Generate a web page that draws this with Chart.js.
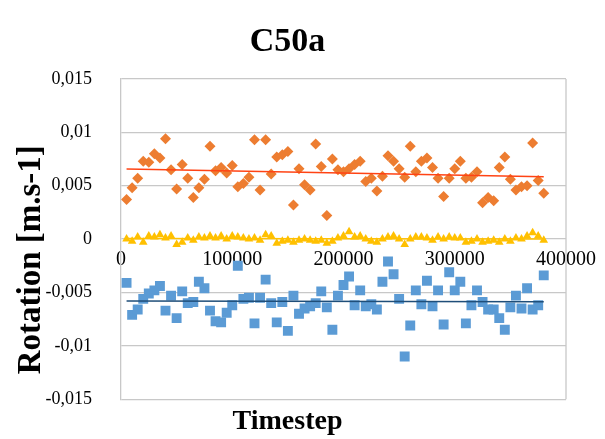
<!DOCTYPE html>
<html lang="en">
<head>
    <meta charset="UTF-8">
    <title>C50a</title>
    <script src="https://cdn.jsdelivr.net/npm/chart.js"></script>
    <style>
        body { margin: 0; background: #fff; }
    </style>
</head>
<body>
    <canvas id="myChart" width="605" height="439"></canvas>

    <script>
        // timestep (x) for every sample
        const timesteps = [
            5000, 10000, 15000, 20000, 25000, 30000, 35000, 40000, 45000, 50000,
            55000, 60000, 65000, 70000, 75000, 80000, 85000, 90000, 95000, 100000,
            105000, 110000, 115000, 120000, 125000, 130000, 135000, 140000, 145000, 150000,
            155000, 160000, 165000, 170000, 175000, 180000, 185000, 190000, 195000, 200000,
            205000, 210000, 215000, 220000, 225000, 230000, 235000, 240000, 245000, 250000,
            255000, 260000, 265000, 270000, 275000, 280000, 285000, 290000, 295000, 300000,
            305000, 310000, 315000, 320000, 325000, 330000, 335000, 340000, 345000, 350000,
            355000, 360000, 365000, 370000, 375000, 380000
        ];

        // orange diamonds
        const rotOrange = [
            0.0037, 0.0048, 0.0057, 0.0073, 0.0072, 0.0080, 0.0076, 0.0094, 0.0065, 0.0047,
            0.0070, 0.0057, 0.0039, 0.0048, 0.0056, 0.0087, 0.0064, 0.0067, 0.0062, 0.0069,
            0.0049, 0.0052, 0.0058, 0.0093, 0.0046, 0.0093, 0.0061, 0.0077, 0.0079, 0.0082,
            0.0032, 0.0066, 0.0051, 0.0046, 0.0089, 0.0068, 0.0022, 0.0075, 0.0065, 0.0063,
            0.0066, 0.0070, 0.0073, 0.0054, 0.0057, 0.0045, 0.0059, 0.0078, 0.0073, 0.0066,
            0.0058, 0.0087, 0.0063, 0.0073, 0.0076, 0.0067, 0.0057, 0.0040, 0.0057, 0.0066,
            0.0073, 0.0057, 0.0058, 0.0063, 0.0034, 0.0039, 0.0036, 0.0067, 0.0077, 0.0056,
            0.0046, 0.0049, 0.0050, 0.0090, 0.0055, 0.0043
        ];

        // yellow triangles
        const rotYellow = [
            0.0000, -0.0002, 0.0002, -0.0003, 0.0003, 0.0002, 0.0004, 0.0001, 0.0003, -0.0005,
            -0.0003, 0.0001, -0.0001, 0.0002, 0.0001, 0.0003, 0.0001, 0.0003, 0.0000, 0.0003,
            0.0002, 0.0001, 0.0000, 0.0001, -0.0001, 0.0004, 0.0003, -0.0004, -0.0002, -0.0001,
            -0.0003, -0.0001, 0.0000, -0.0001, -0.0002, -0.0001, -0.0004, -0.0002, 0.0001, 0.0003,
            0.0007, 0.0002, 0.0003, 0.0000, -0.0002, -0.0003, 0.0000, 0.0002, 0.0003, 0.0000,
            -0.0005, 0.0000, 0.0002, 0.0002, 0.0001, -0.0001, 0.0002, 0.0000, 0.0002, 0.0001,
            0.0001, -0.0003, -0.0002, 0.0000, -0.0003, -0.0002, -0.0001, -0.0003, 0.0000, -0.0002,
            0.0001, 0.0000, 0.0003, 0.0006, 0.0003, -0.0001
        ];

        // blue squares
        const rotBlue = [
            -0.0041, -0.0071, -0.0066, -0.0056, -0.0051, -0.0048, -0.0044, -0.0067, -0.0053, -0.0074,
            -0.0049, -0.0060, -0.0059, -0.0040, -0.0046, -0.0067, -0.0077, -0.0078, -0.0069, -0.0062,
            -0.0025, -0.0056, -0.0055, -0.0079, -0.0055, -0.0038, -0.0060, -0.0078, -0.0059, -0.0086,
            -0.0053, -0.0070, -0.0065, -0.0063, -0.0060, -0.0049, -0.0064, -0.0085, -0.0053, -0.0043,
            -0.0035, -0.0062, -0.0048, -0.0063, -0.0061, -0.0066, -0.0040, -0.0021, -0.0033, -0.0056,
            -0.0110, -0.0081, -0.0048, -0.0061, -0.0039, -0.0063, -0.0048, -0.0080, -0.0031, -0.0048,
            -0.0040, -0.0079, -0.0062, -0.0048, -0.0059, -0.0066, -0.0066, -0.0074, -0.0085, -0.0064,
            -0.0053, -0.0065, -0.0046, -0.0066, -0.0062, -0.0034
        ];

        const yTicks = [-0.015, -0.01, -0.005, 0, 0.005, 0.01, 0.015];
        const xTicks = [0, 100000, 200000, 300000, 400000];

        const serif = "'Liberation Serif', 'Times New Roman', serif";
        const gridGray = '#c8c8c8';

        function toPoints(xs, ys) {
            return xs.map((x, i) => ({ x: x, y: ys[i] }));
        }

        // linear trendline (least squares) between first and last timestep
        function trend(xs, ys) {
            const n = xs.length;
            const mx = xs.reduce((a, b) => a + b, 0) / n;
            const my = ys.reduce((a, b) => a + b, 0) / n;
            let sxy = 0, sxx = 0;
            for (let i = 0; i < n; i++) {
                sxy += (xs[i] - mx) * (ys[i] - my);
                sxx += (xs[i] - mx) * (xs[i] - mx);
            }
            const slope = sxy / sxx;
            const b = my - slope * mx;
            const x0 = xs[0], x1 = xs[n - 1];
            return [{ x: x0, y: b + slope * x0 }, { x: x1, y: b + slope * x1 }];
        }

        function trendSet(label, xs, ys, color) {
            return {
                type: 'line',
                label: label,
                data: trend(xs, ys),
                borderColor: color,
                borderWidth: 1.5,
                pointRadius: 0,
                fill: false
            };
        }

        // right edge of the plot frame
        const frame = {
            id: 'frame',
            beforeDatasetsDraw(chart) {
                const { ctx, chartArea: a } = chart;
                ctx.save();
                ctx.strokeStyle = gridGray;
                ctx.lineWidth = 1.3;
                ctx.beginPath();
                ctx.moveTo(a.right, a.top);
                ctx.lineTo(a.right, a.bottom);
                ctx.stroke();
                ctx.restore();
            }
        };

        function fmt(v) {
            return String(Math.round(v * 1000) / 1000).replace('.', ',');
        }

        new Chart(document.getElementById('myChart'), {
            type: 'scatter',
            data: {
                datasets: [
                    trendSet('trend orange', timesteps, rotOrange, '#ff4314'),
                    trendSet('trend blue', timesteps, rotBlue, '#1f4e79'),
                    trendSet('trend yellow', timesteps, rotYellow, '#ffc000'),
                    {
                        label: 'orange',
                        data: toPoints(timesteps, rotOrange),
                        pointStyle: 'rectRot',
                        pointRadius: 5.5,
                        backgroundColor: '#ed7d31',
                        borderColor: '#ed7d31',
                        borderWidth: 0
                    },
                    {
                        label: 'yellow',
                        data: toPoints(timesteps, rotYellow),
                        pointStyle: 'triangle',
                        pointRadius: 5,
                        backgroundColor: '#ffc000',
                        borderColor: '#ffc000',
                        borderWidth: 0
                    },
                    {
                        label: 'blue',
                        data: toPoints(timesteps, rotBlue),
                        pointStyle: 'rect',
                        pointRadius: 7,
                        backgroundColor: '#5b9bd5',
                        borderColor: '#5b9bd5',
                        borderWidth: 0
                    }
                ]
            },
            options: {
                responsive: false,
                animation: false,
                devicePixelRatio: 1,
                layout: { padding: { left: 0, right: 30, top: 0, bottom: 0 } },
                plugins: {
                    legend: { display: false },
                    tooltip: { enabled: false },
                    title: {
                        display: true,
                        text: 'C50a',
                        color: '#000',
                        font: { family: serif, size: 34, weight: 'bold', lineHeight: 1 },
                        padding: { top: 25, bottom: 20 }
                    },
                    subtitle: {
                        display: true,
                        position: 'bottom',
                        text: 'Timestep',
                        color: '#000',
                        font: { family: serif, size: 28, weight: 'bold', lineHeight: 0.7 },
                        padding: { top: 13, bottom: 0 }
                    }
                },
                scales: {
                    x: {
                        type: 'linear',
                        position: { y: 0 },
                        min: 0,
                        max: 400000,
                        z: 1,
                        grid: { display: false, drawTicks: false },
                        border: { display: false },
                        afterBuildTicks: (scale) => { scale.ticks = xTicks.map(v => ({ value: v })); },
                        ticks: {
                            color: '#000',
                            padding: 9,
                            maxRotation: 0,
                            autoSkip: false,
                            font: { family: serif, size: 20 },
                            callback: (v) => String(v)
                        }
                    },
                    y: {
                        min: -0.015,
                        max: 0.015,
                        grid: { color: gridGray, lineWidth: 1.3, drawTicks: false },
                        border: { color: gridGray, width: 1.3 },
                        afterBuildTicks: (scale) => { scale.ticks = yTicks.map(v => ({ value: v })); },
                        afterFit: (scale) => { scale.width = 121; },
                        ticks: {
                            color: '#000',
                            padding: 29,
                            font: { family: serif, size: 18 },
                            callback: (v) => fmt(v)
                        },
                        title: {
                            display: true,
                            // trailing spaces nudge the rotated title down, as in the original
                            text: 'Rotation [m.s-1]     ',
                            color: '#000',
                            font: { family: serif, size: 33, weight: 'bold' },
                            padding: { top: 12, bottom: 0 }
                        }
                    }
                }
            },
            plugins: [frame]
        });
    </script>
</body>
</html>
